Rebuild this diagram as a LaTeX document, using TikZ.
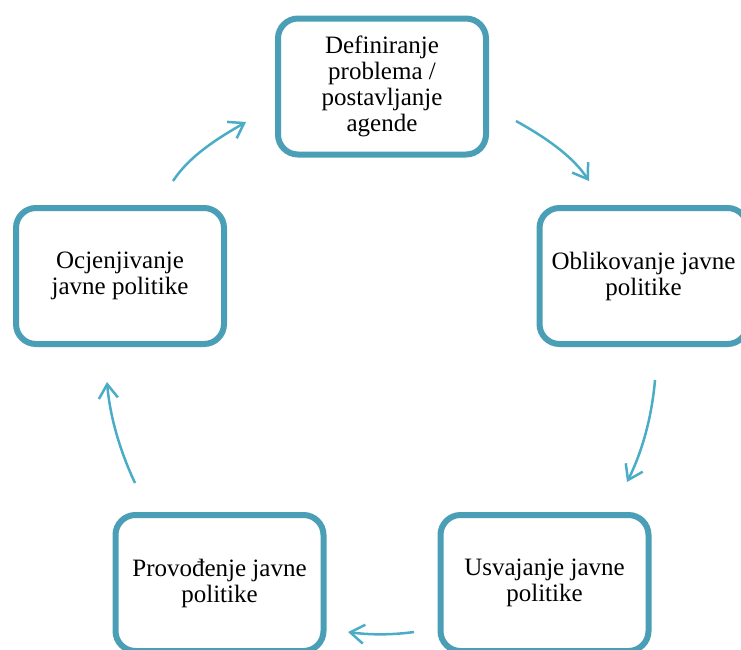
\documentclass[tikz,border=0pt]{standalone}
\usepackage{fontspec}
\setmainfont{Liberation Serif}
\usetikzlibrary{arrows.meta}

\definecolor{rub}{HTML}{4A9EB6}
\definecolor{strel}{HTML}{4BACC6}

\tikzset{
  faza/.style={draw=rub, line width=6pt, rounded corners=20pt, fill=white,
    minimum width=208pt, minimum height=136pt, inner sep=0pt, align=center,
    font=\fontsize{25}{26}\selectfont},
  strelica/.style={draw=strel, line width=2.5pt,
    -{Straight Barb[length=14pt, width=19pt, line width=2.5pt]}}
}

\begin{document}
\begin{tikzpicture}[x=1pt, y=-1pt]
      \useasboundingbox (0,0) rectangle (741,649);
      \clip (0,0) rectangle (741,649);

      %faze ciklusa
      \node[faza] (def) at (382, 86.5) {Definiranje\\problema /\\postavljanje\\agende};
      \node[faza] (obl) at (643.5, 276) {Oblikovanje javne\\politike};
      \node[faza] (usv) at (544.5, 583) {Usvajanje javne\\politike};
      \node[faza] (pro) at (219.5, 583) {Provođenje javne\\politike};
      \node[faza] (ocj) at (120, 276) {Ocjenjivanje\\javne politike};

      %krajevi strelica
      \coordinate (s1) at (516, 121);
      \coordinate (e1) at (589, 181);
      \coordinate (s2) at (655, 380);
      \coordinate (e2) at (627, 482);
      \coordinate (s3) at (414, 632);
      \coordinate (e3) at (348, 632);
      \coordinate (s4) at (135, 483);
      \coordinate (e4) at (107, 382);
      \coordinate (s5) at (173, 181);
      \coordinate (e5) at (246, 122);

      %strelice
      \draw[strelica] (s1) .. controls (543, 136) and (572, 155) .. (e1);
      \draw[strelica] (s2) .. controls (652, 415) and (643, 450) .. (e2);
      \draw[strelica] (s3) .. controls (392, 635) and (370, 635) .. (e3);
      \draw[strelica] (s4) .. controls (120, 451) and (110, 417) .. (e4);
      \draw[strelica] (s5) .. controls (190, 155) and (220, 137) .. (e5);
    \end{tikzpicture}
\end{document}
